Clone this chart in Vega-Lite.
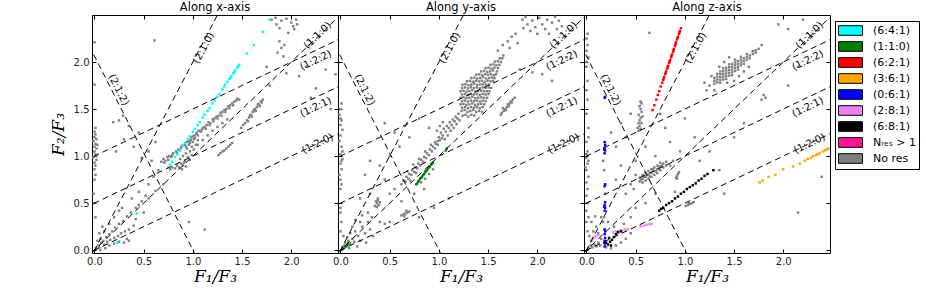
{
"$schema":"https://vega.github.io/schema/vega-lite/v6.json",
"padding":{"left":48,"top":1,"right":0,"bottom":0},
"autosize":{"type":"pad"},
"bounds":"flush",
"spacing":0,
"config":{
"view":{"stroke":"black","strokeWidth":1},
"axis":{"grid":false,"domain":false,"tickSize":-4,"tickColor":"black","labelFontSize":10,"labelFont":"DejaVu Sans","labelColor":"#222222","labelFlush":false,"labelOverlap":false,"labelPadding":7,"titleFont":"DejaVu Serif","titleFontStyle":"italic","titleFontWeight":"normal","titleFontSize":17,"titleColor":"black"},
"title":{"fontSize":11.5,"fontWeight":"normal","font":"DejaVu Sans","color":"black","offset":1},
"legend":{"orient":"none","legendX":743,"legendY":6}
},
"datasets":{
"lines":[
{"x1":-0.1,"y1":-0.2,"x2":1.3,"y2":2.6},
{"x1":-0.1,"y1":-0.1,"x2":2.6,"y2":2.6},
{"x1":-0.1,"y1":-0.05,"x2":2.6,"y2":1.3},
{"x1":-0.1,"y1":0.45,"x2":2.6,"y2":1.8},
{"x1":-0.1,"y1":0.95,"x2":2.6,"y2":2.3},
{"x1":-0.1,"y1":2.27,"x2":1.05,"y2":-0.1}
],
"labs":[
{"t":"(2:1:0)","x":1.11,"y":2.15,"g":"a"},
{"t":"(2:1:2)","x":0.244,"y":1.705,"g":"b"},
{"t":"(1:1:0)","x":2.268,"y":2.283,"g":"c"},
{"t":"(1:2:2)","x":2.25,"y":2.017,"g":"d"},
{"t":"(1:2:1)","x":2.25,"y":1.52,"g":"d"},
{"t":"(1:2:0)","x":2.268,"y":1.132,"g":"d"}
],
"pts":[
{"p":1,"c":"No res","x":0.68,"y":0.94},{"p":1,"c":"No res","x":0.70,"y":0.97},{"p":1,"c":"No res","x":0.72,"y":0.95},{"p":1,"c":"No res","x":0.74,"y":0.99},{"p":1,"c":"No res","x":0.76,"y":1.00},{"p":1,"c":"No res","x":0.78,"y":0.99},{"p":1,"c":"No res","x":0.80,"y":1.03},{"p":1,"c":"No res","x":0.83,"y":1.05},{"p":1,"c":"No res","x":0.85,"y":1.07},{"p":1,"c":"No res","x":0.87,"y":1.06},{"p":1,"c":"No res","x":0.89,"y":1.11},{"p":1,"c":"No res","x":0.92,"y":1.12},{"p":1,"c":"No res","x":0.94,"y":1.15},{"p":1,"c":"No res","x":0.96,"y":1.16},{"p":1,"c":"No res","x":0.98,"y":1.17},{"p":1,"c":"No res","x":1.00,"y":1.21},{"p":1,"c":"No res","x":1.02,"y":1.22},{"p":1,"c":"No res","x":1.04,"y":1.24},{"p":1,"c":"No res","x":1.06,"y":1.27},{"p":1,"c":"No res","x":1.08,"y":1.26},{"p":1,"c":"No res","x":1.10,"y":1.30},{"p":1,"c":"No res","x":1.12,"y":1.31},{"p":1,"c":"No res","x":1.14,"y":1.33},{"p":1,"c":"No res","x":1.16,"y":1.36},{"p":1,"c":"No res","x":1.18,"y":1.35},{"p":1,"c":"No res","x":1.20,"y":1.39},{"p":1,"c":"No res","x":1.22,"y":1.40},{"p":1,"c":"No res","x":1.24,"y":1.42},{"p":1,"c":"No res","x":1.26,"y":1.43},{"p":1,"c":"No res","x":1.28,"y":1.46},{"p":1,"c":"No res","x":1.30,"y":1.47},{"p":1,"c":"No res","x":1.32,"y":1.49},{"p":1,"c":"No res","x":1.34,"y":1.50},{"p":1,"c":"No res","x":1.36,"y":1.53},{"p":1,"c":"No res","x":1.38,"y":1.54},{"p":1,"c":"No res","x":1.40,"y":1.56},{"p":1,"c":"No res","x":1.42,"y":1.58},{"p":1,"c":"No res","x":1.44,"y":1.59},{"p":1,"c":"No res","x":0.71,"y":0.93},{"p":1,"c":"No res","x":0.75,"y":0.96},{"p":1,"c":"No res","x":0.79,"y":1.01},{"p":1,"c":"No res","x":0.84,"y":1.03},{"p":1,"c":"No res","x":0.88,"y":1.09},{"p":1,"c":"No res","x":0.93,"y":1.10},{"p":1,"c":"No res","x":0.97,"y":1.14},{"p":1,"c":"No res","x":1.01,"y":1.18},{"p":1,"c":"No res","x":1.05,"y":1.22},{"p":1,"c":"No res","x":1.09,"y":1.28},{"p":1,"c":"No res","x":1.13,"y":1.29},{"p":1,"c":"No res","x":1.17,"y":1.33},{"p":1,"c":"No res","x":1.21,"y":1.37},{"p":1,"c":"No res","x":1.25,"y":1.40},{"p":1,"c":"No res","x":1.29,"y":1.43},{"p":1,"c":"No res","x":1.33,"y":1.47},{"p":1,"c":"No res","x":1.37,"y":1.51},{"p":1,"c":"No res","x":1.41,"y":1.54},{"p":1,"c":"No res","x":1.45,"y":1.61},{"p":1,"c":"No res","x":1.47,"y":1.60},
{"p":1,"c":"No res","x":0.86,"y":0.88},{"p":1,"c":"No res","x":0.88,"y":0.92},{"p":1,"c":"No res","x":0.90,"y":0.90},{"p":1,"c":"No res","x":0.92,"y":0.95},{"p":1,"c":"No res","x":0.87,"y":0.97},{"p":1,"c":"No res","x":0.90,"y":1.00},{"p":1,"c":"No res","x":0.93,"y":1.03},{"p":1,"c":"No res","x":0.95,"y":0.99},{"p":1,"c":"No res","x":0.97,"y":1.05},{"p":1,"c":"No res","x":0.94,"y":1.08},{"p":1,"c":"No res","x":0.99,"y":1.10},{"p":1,"c":"No res","x":1.01,"y":1.07},{"p":1,"c":"No res","x":0.96,"y":1.12},{"p":1,"c":"No res","x":1.00,"y":1.15},{"p":1,"c":"No res","x":1.03,"y":1.12},{"p":1,"c":"No res","x":0.98,"y":1.20},{"p":1,"c":"No res","x":1.02,"y":1.19},{"p":1,"c":"No res","x":1.05,"y":1.17},{"p":1,"c":"No res","x":0.91,"y":0.93},{"p":1,"c":"No res","x":0.89,"y":0.86},{"p":1,"c":"No res","x":0.84,"y":0.90},{"p":1,"c":"No res","x":0.82,"y":0.87},{"p":1,"c":"No res","x":0.79,"y":0.88},{"p":1,"c":"No res","x":0.77,"y":0.86},{"p":1,"c":"No res","x":0.93,"y":0.89},{"p":1,"c":"No res","x":1.04,"y":1.25},{"p":1,"c":"No res","x":0.97,"y":0.96},{"p":1,"c":"No res","x":0.99,"y":1.01},
{"p":1,"c":"No res","x":1.05,"y":1.12},{"p":1,"c":"No res","x":1.10,"y":1.17},{"p":1,"c":"No res","x":1.15,"y":1.22},{"p":1,"c":"No res","x":1.20,"y":1.27},{"p":1,"c":"No res","x":1.25,"y":1.31},{"p":1,"c":"No res","x":1.30,"y":1.35},{"p":1,"c":"No res","x":1.35,"y":1.39},
{"p":1,"c":"No res","x":1.26,"y":1.01},{"p":1,"c":"No res","x":1.28,"y":1.03},{"p":1,"c":"No res","x":1.30,"y":1.05},{"p":1,"c":"No res","x":1.32,"y":1.06},{"p":1,"c":"No res","x":1.34,"y":1.08},{"p":1,"c":"No res","x":1.36,"y":1.10},{"p":1,"c":"No res","x":1.38,"y":1.12},{"p":1,"c":"No res","x":1.40,"y":1.14},
{"p":1,"c":"No res","x":1.49,"y":1.30},{"p":1,"c":"No res","x":1.51,"y":1.33},{"p":1,"c":"No res","x":1.53,"y":1.35},{"p":1,"c":"No res","x":1.55,"y":1.38},{"p":1,"c":"No res","x":1.57,"y":1.41},{"p":1,"c":"No res","x":1.59,"y":1.44},{"p":1,"c":"No res","x":1.61,"y":1.47},{"p":1,"c":"No res","x":1.63,"y":1.50},{"p":1,"c":"No res","x":1.65,"y":1.52},{"p":1,"c":"No res","x":1.67,"y":1.55},{"p":1,"c":"No res","x":1.69,"y":1.58},{"p":1,"c":"No res","x":1.71,"y":1.60},{"p":1,"c":"No res","x":1.56,"y":1.37},{"p":1,"c":"No res","x":1.60,"y":1.42},{"p":1,"c":"No res","x":1.64,"y":1.48},{"p":1,"c":"No res","x":1.68,"y":1.53},{"p":1,"c":"No res","x":1.58,"y":1.43},{"p":1,"c":"No res","x":1.62,"y":1.49},{"p":1,"c":"No res","x":1.66,"y":1.55},{"p":1,"c":"No res","x":1.70,"y":1.57},
{"p":1,"c":"No res","x":1.80,"y":2.45},{"p":1,"c":"No res","x":1.84,"y":2.47},{"p":1,"c":"No res","x":1.90,"y":2.44},{"p":1,"c":"No res","x":1.95,"y":2.46},{"p":1,"c":"No res","x":2.00,"y":2.42},{"p":1,"c":"No res","x":2.02,"y":2.38},{"p":1,"c":"No res","x":2.05,"y":2.45},{"p":1,"c":"No res","x":2.03,"y":2.35},{"p":1,"c":"No res","x":1.88,"y":2.36},{"p":1,"c":"No res","x":1.97,"y":2.31},{"p":1,"c":"No res","x":2.06,"y":2.40},{"p":1,"c":"No res","x":1.85,"y":2.40},{"p":1,"c":"No res","x":1.88,"y":2.22},{"p":1,"c":"No res","x":1.90,"y":2.15},{"p":1,"c":"No res","x":1.93,"y":2.18},{"p":1,"c":"No res","x":1.86,"y":2.10},{"p":1,"c":"No res","x":1.92,"y":2.06},{"p":1,"c":"No res","x":2.18,"y":2.18},{"p":1,"c":"No res","x":2.08,"y":1.85},{"p":1,"c":"No res","x":2.25,"y":1.72},{"p":1,"c":"No res","x":2.35,"y":1.92},{"p":1,"c":"No res","x":2.45,"y":1.87},{"p":1,"c":"No res","x":2.40,"y":1.50},{"p":1,"c":"No res","x":2.15,"y":1.95},{"p":1,"c":"No res","x":1.95,"y":1.88},{"p":1,"c":"No res","x":1.78,"y":1.75},{"p":1,"c":"No res","x":1.75,"y":1.95},{"p":1,"c":"No res","x":2.20,"y":1.62},
{"p":1,"c":"No res","x":0.61,"y":2.23},{"p":1,"c":"No res","x":0.29,"y":1.43},{"p":1,"c":"No res","x":0.19,"y":1.36},{"p":1,"c":"No res","x":0.25,"y":1.38},{"p":1,"c":"No res","x":0.35,"y":1.32},{"p":1,"c":"No res","x":0.30,"y":1.18},{"p":1,"c":"No res","x":0.40,"y":1.10},{"p":1,"c":"No res","x":0.45,"y":1.25},{"p":1,"c":"No res","x":0.22,"y":1.05},{"p":1,"c":"No res","x":0.48,"y":0.98},{"p":1,"c":"No res","x":0.55,"y":1.05},{"p":1,"c":"No res","x":0.62,"y":1.15},{"p":1,"c":"No res","x":0.58,"y":0.95},
{"p":1,"c":"No res","x":0.00,"y":0.86},{"p":1,"c":"No res","x":0.01,"y":0.90},{"p":1,"c":"No res","x":0.00,"y":0.93},{"p":1,"c":"No res","x":0.02,"y":0.96},{"p":1,"c":"No res","x":-0.01,"y":0.99},{"p":1,"c":"No res","x":0.01,"y":1.02},{"p":1,"c":"No res","x":0.00,"y":1.05},{"p":1,"c":"No res","x":0.02,"y":1.08},{"p":1,"c":"No res","x":0.00,"y":1.10},{"p":1,"c":"No res","x":0.01,"y":1.13},{"p":1,"c":"No res","x":-0.01,"y":1.16},{"p":1,"c":"No res","x":0.02,"y":1.18},{"p":1,"c":"No res","x":0.00,"y":1.20},{"p":1,"c":"No res","x":0.01,"y":1.23},{"p":1,"c":"No res","x":0.00,"y":1.26},{"p":1,"c":"No res","x":0.03,"y":1.12},{"p":1,"c":"No res","x":0.02,"y":1.00},{"p":1,"c":"No res","x":0.01,"y":0.80},{"p":1,"c":"No res","x":0.00,"y":0.75},{"p":1,"c":"No res","x":0.01,"y":1.30},{"p":1,"c":"No res","x":0.00,"y":2.21},{"p":1,"c":"No res","x":0.00,"y":1.76},{"p":1,"c":"No res","x":-0.01,"y":0.60},{"p":1,"c":"No res","x":0.00,"y":0.50},{"p":1,"c":"No res","x":0.01,"y":0.35},
{"p":1,"c":"No res","x":0.02,"y":0.02},{"p":1,"c":"No res","x":0.04,"y":0.05},{"p":1,"c":"No res","x":0.05,"y":0.03},{"p":1,"c":"No res","x":0.07,"y":0.08},{"p":1,"c":"No res","x":0.06,"y":0.12},{"p":1,"c":"No res","x":0.09,"y":0.10},{"p":1,"c":"No res","x":0.10,"y":0.06},{"p":1,"c":"No res","x":0.12,"y":0.14},{"p":1,"c":"No res","x":0.13,"y":0.09},{"p":1,"c":"No res","x":0.15,"y":0.17},{"p":1,"c":"No res","x":0.16,"y":0.11},{"p":1,"c":"No res","x":0.18,"y":0.20},{"p":1,"c":"No res","x":0.20,"y":0.13},{"p":1,"c":"No res","x":0.21,"y":0.24},{"p":1,"c":"No res","x":0.24,"y":0.15},{"p":1,"c":"No res","x":0.25,"y":0.28},{"p":1,"c":"No res","x":0.27,"y":0.18},{"p":1,"c":"No res","x":0.29,"y":0.31},{"p":1,"c":"No res","x":0.31,"y":0.20},{"p":1,"c":"No res","x":0.33,"y":0.36},{"p":1,"c":"No res","x":0.35,"y":0.22},{"p":1,"c":"No res","x":0.37,"y":0.40},{"p":1,"c":"No res","x":0.40,"y":0.26},{"p":1,"c":"No res","x":0.42,"y":0.45},{"p":1,"c":"No res","x":0.45,"y":0.48},{"p":1,"c":"No res","x":0.48,"y":0.52},{"p":1,"c":"No res","x":0.10,"y":0.20},{"p":1,"c":"No res","x":0.15,"y":0.28},{"p":1,"c":"No res","x":0.20,"y":0.35},{"p":1,"c":"No res","x":0.25,"y":0.42},{"p":1,"c":"No res","x":0.08,"y":0.25},{"p":1,"c":"No res","x":0.05,"y":0.18},{"p":1,"c":"No res","x":0.03,"y":0.10},{"p":1,"c":"No res","x":0.30,"y":0.08},{"p":1,"c":"No res","x":0.35,"y":0.10},{"p":1,"c":"No res","x":0.25,"y":0.09},{"p":1,"c":"No res","x":0.20,"y":0.07},{"p":1,"c":"No res","x":0.28,"y":0.45},{"p":1,"c":"No res","x":0.38,"y":0.55},{"p":1,"c":"No res","x":0.45,"y":0.62},{"p":1,"c":"No res","x":0.52,"y":0.58},{"p":1,"c":"No res","x":0.55,"y":0.70},{"p":1,"c":"No res","x":0.60,"y":0.78},{"p":1,"c":"No res","x":0.65,"y":0.85},{"p":1,"c":"No res","x":0.50,"y":0.40},{"p":1,"c":"No res","x":0.42,"y":0.33},{"p":1,"c":"No res","x":0.15,"y":0.05},{"p":1,"c":"No res","x":0.11,"y":0.02},{"p":1,"c":"No res","x":0.06,"y":0.00},{"p":1,"c":"No res","x":0.33,"y":0.12},{"p":1,"c":"No res","x":0.96,"y":0.30},{"p":1,"c":"No res","x":1.12,"y":0.22},{"p":1,"c":"No res","x":0.55,"y":0.55},{"p":1,"c":"No res","x":0.62,"y":0.63},{"p":1,"c":"No res","x":0.70,"y":0.70},
{"p":2,"c":"No res","x":1.23,"y":1.48},{"p":2,"c":"No res","x":1.26,"y":1.49},{"p":2,"c":"No res","x":1.29,"y":1.47},{"p":2,"c":"No res","x":1.32,"y":1.48},{"p":2,"c":"No res","x":1.35,"y":1.49},{"p":2,"c":"No res","x":1.38,"y":1.47},{"p":2,"c":"No res","x":1.41,"y":1.48},{"p":2,"c":"No res","x":1.44,"y":1.47},
{"p":2,"c":"No res","x":1.235,"y":1.515},{"p":2,"c":"No res","x":1.265,"y":1.52},{"p":2,"c":"No res","x":1.295,"y":1.51},{"p":2,"c":"No res","x":1.325,"y":1.52},{"p":2,"c":"No res","x":1.355,"y":1.515},{"p":2,"c":"No res","x":1.385,"y":1.52},{"p":2,"c":"No res","x":1.415,"y":1.51},{"p":2,"c":"No res","x":1.445,"y":1.52},
{"p":2,"c":"No res","x":1.22,"y":1.55},{"p":2,"c":"No res","x":1.25,"y":1.555},{"p":2,"c":"No res","x":1.28,"y":1.545},{"p":2,"c":"No res","x":1.31,"y":1.55},{"p":2,"c":"No res","x":1.34,"y":1.56},{"p":2,"c":"No res","x":1.37,"y":1.545},{"p":2,"c":"No res","x":1.40,"y":1.55},{"p":2,"c":"No res","x":1.43,"y":1.555},{"p":2,"c":"No res","x":1.46,"y":1.55},
{"p":2,"c":"No res","x":1.235,"y":1.585},{"p":2,"c":"No res","x":1.265,"y":1.59},{"p":2,"c":"No res","x":1.295,"y":1.58},{"p":2,"c":"No res","x":1.325,"y":1.59},{"p":2,"c":"No res","x":1.355,"y":1.585},{"p":2,"c":"No res","x":1.385,"y":1.59},{"p":2,"c":"No res","x":1.415,"y":1.58},{"p":2,"c":"No res","x":1.445,"y":1.59},{"p":2,"c":"No res","x":1.475,"y":1.585},
{"p":2,"c":"No res","x":1.22,"y":1.62},{"p":2,"c":"No res","x":1.25,"y":1.625},{"p":2,"c":"No res","x":1.28,"y":1.615},{"p":2,"c":"No res","x":1.31,"y":1.62},{"p":2,"c":"No res","x":1.34,"y":1.63},{"p":2,"c":"No res","x":1.37,"y":1.615},{"p":2,"c":"No res","x":1.40,"y":1.62},{"p":2,"c":"No res","x":1.43,"y":1.625},{"p":2,"c":"No res","x":1.46,"y":1.62},{"p":2,"c":"No res","x":1.49,"y":1.62},
{"p":2,"c":"No res","x":1.235,"y":1.655},{"p":2,"c":"No res","x":1.265,"y":1.66},{"p":2,"c":"No res","x":1.295,"y":1.65},{"p":2,"c":"No res","x":1.325,"y":1.66},{"p":2,"c":"No res","x":1.355,"y":1.655},{"p":2,"c":"No res","x":1.385,"y":1.66},{"p":2,"c":"No res","x":1.415,"y":1.65},{"p":2,"c":"No res","x":1.445,"y":1.66},{"p":2,"c":"No res","x":1.475,"y":1.655},{"p":2,"c":"No res","x":1.505,"y":1.66},
{"p":2,"c":"No res","x":1.22,"y":1.69},{"p":2,"c":"No res","x":1.25,"y":1.695},{"p":2,"c":"No res","x":1.28,"y":1.685},{"p":2,"c":"No res","x":1.31,"y":1.69},{"p":2,"c":"No res","x":1.34,"y":1.70},{"p":2,"c":"No res","x":1.37,"y":1.685},{"p":2,"c":"No res","x":1.40,"y":1.69},{"p":2,"c":"No res","x":1.43,"y":1.695},{"p":2,"c":"No res","x":1.46,"y":1.69},{"p":2,"c":"No res","x":1.49,"y":1.69},{"p":2,"c":"No res","x":1.515,"y":1.69},
{"p":2,"c":"No res","x":1.235,"y":1.725},{"p":2,"c":"No res","x":1.265,"y":1.73},{"p":2,"c":"No res","x":1.295,"y":1.72},{"p":2,"c":"No res","x":1.325,"y":1.73},{"p":2,"c":"No res","x":1.355,"y":1.725},{"p":2,"c":"No res","x":1.385,"y":1.73},{"p":2,"c":"No res","x":1.415,"y":1.72},{"p":2,"c":"No res","x":1.445,"y":1.73},{"p":2,"c":"No res","x":1.475,"y":1.725},{"p":2,"c":"No res","x":1.505,"y":1.73},{"p":2,"c":"No res","x":1.53,"y":1.725},
{"p":2,"c":"No res","x":1.24,"y":1.76},{"p":2,"c":"No res","x":1.27,"y":1.765},{"p":2,"c":"No res","x":1.30,"y":1.755},{"p":2,"c":"No res","x":1.33,"y":1.76},{"p":2,"c":"No res","x":1.36,"y":1.77},{"p":2,"c":"No res","x":1.39,"y":1.755},{"p":2,"c":"No res","x":1.42,"y":1.76},{"p":2,"c":"No res","x":1.45,"y":1.765},{"p":2,"c":"No res","x":1.48,"y":1.76},{"p":2,"c":"No res","x":1.51,"y":1.76},
{"p":2,"c":"No res","x":1.285,"y":1.795},{"p":2,"c":"No res","x":1.315,"y":1.80},{"p":2,"c":"No res","x":1.345,"y":1.79},{"p":2,"c":"No res","x":1.375,"y":1.80},{"p":2,"c":"No res","x":1.405,"y":1.795},{"p":2,"c":"No res","x":1.435,"y":1.80},{"p":2,"c":"No res","x":1.465,"y":1.79},{"p":2,"c":"No res","x":1.495,"y":1.80},{"p":2,"c":"No res","x":1.525,"y":1.795},{"p":2,"c":"No res","x":1.55,"y":1.80},
{"p":2,"c":"No res","x":1.33,"y":1.83},{"p":2,"c":"No res","x":1.36,"y":1.835},{"p":2,"c":"No res","x":1.39,"y":1.825},{"p":2,"c":"No res","x":1.42,"y":1.83},{"p":2,"c":"No res","x":1.45,"y":1.84},{"p":2,"c":"No res","x":1.48,"y":1.825},{"p":2,"c":"No res","x":1.51,"y":1.83},{"p":2,"c":"No res","x":1.54,"y":1.835},{"p":2,"c":"No res","x":1.565,"y":1.83},
{"p":2,"c":"No res","x":1.38,"y":1.865},{"p":2,"c":"No res","x":1.41,"y":1.87},{"p":2,"c":"No res","x":1.44,"y":1.86},{"p":2,"c":"No res","x":1.47,"y":1.87},{"p":2,"c":"No res","x":1.50,"y":1.865},{"p":2,"c":"No res","x":1.53,"y":1.87},{"p":2,"c":"No res","x":1.56,"y":1.86},{"p":2,"c":"No res","x":1.58,"y":1.87},
{"p":2,"c":"No res","x":1.43,"y":1.90},{"p":2,"c":"No res","x":1.46,"y":1.905},{"p":2,"c":"No res","x":1.49,"y":1.895},{"p":2,"c":"No res","x":1.52,"y":1.90},{"p":2,"c":"No res","x":1.55,"y":1.91},{"p":2,"c":"No res","x":1.59,"y":1.90},
{"p":2,"c":"No res","x":1.475,"y":1.935},{"p":2,"c":"No res","x":1.505,"y":1.94},{"p":2,"c":"No res","x":1.535,"y":1.93},{"p":2,"c":"No res","x":1.565,"y":1.94},{"p":2,"c":"No res","x":1.60,"y":1.935},
{"p":2,"c":"No res","x":1.525,"y":1.97},{"p":2,"c":"No res","x":1.555,"y":1.975},{"p":2,"c":"No res","x":1.585,"y":1.965},{"p":2,"c":"No res","x":1.615,"y":1.97},
{"p":2,"c":"No res","x":1.57,"y":2.005},{"p":2,"c":"No res","x":1.60,"y":2.01},{"p":2,"c":"No res","x":1.63,"y":2.00},{"p":2,"c":"No res","x":1.62,"y":2.04},{"p":2,"c":"No res","x":1.645,"y":2.04},{"p":2,"c":"No res","x":1.655,"y":2.07},
{"p":2,"c":"No res","x":1.00,"y":1.20},{"p":2,"c":"No res","x":1.02,"y":1.25},{"p":2,"c":"No res","x":1.04,"y":1.22},{"p":2,"c":"No res","x":1.05,"y":1.29},{"p":2,"c":"No res","x":1.07,"y":1.26},{"p":2,"c":"No res","x":1.08,"y":1.32},{"p":2,"c":"No res","x":1.10,"y":1.30},{"p":2,"c":"No res","x":1.11,"y":1.36},{"p":2,"c":"No res","x":1.13,"y":1.33},{"p":2,"c":"No res","x":1.14,"y":1.39},{"p":2,"c":"No res","x":1.16,"y":1.37},{"p":2,"c":"No res","x":1.17,"y":1.42},{"p":2,"c":"No res","x":1.19,"y":1.40},{"p":2,"c":"No res","x":1.20,"y":1.45},{"p":2,"c":"No res","x":1.18,"y":1.34},{"p":2,"c":"No res","x":1.15,"y":1.30},{"p":2,"c":"No res","x":1.12,"y":1.27},{"p":2,"c":"No res","x":1.06,"y":1.18},{"p":2,"c":"No res","x":1.09,"y":1.22},{"p":2,"c":"No res","x":1.21,"y":1.38},{"p":2,"c":"No res","x":1.24,"y":1.43},{"p":2,"c":"No res","x":1.27,"y":1.44},{"p":2,"c":"No res","x":1.30,"y":1.42},{"p":2,"c":"No res","x":1.33,"y":1.44},{"p":2,"c":"No res","x":1.36,"y":1.43},{"p":2,"c":"No res","x":0.98,"y":1.27},{"p":2,"c":"No res","x":1.01,"y":1.32},{"p":2,"c":"No res","x":1.04,"y":1.36},{"p":2,"c":"No res","x":0.96,"y":1.15},{"p":2,"c":"No res","x":0.99,"y":1.12},
{"p":2,"c":"No res","x":0.62,"y":0.70},{"p":2,"c":"No res","x":0.64,"y":0.74},{"p":2,"c":"No res","x":0.66,"y":0.73},{"p":2,"c":"No res","x":0.67,"y":0.78},{"p":2,"c":"No res","x":0.69,"y":0.76},{"p":2,"c":"No res","x":0.70,"y":0.81},{"p":2,"c":"No res","x":0.72,"y":0.80},{"p":2,"c":"No res","x":0.73,"y":0.85},{"p":2,"c":"No res","x":0.75,"y":0.83},{"p":2,"c":"No res","x":0.76,"y":0.88},{"p":2,"c":"No res","x":0.78,"y":0.87},{"p":2,"c":"No res","x":0.79,"y":0.92},{"p":2,"c":"No res","x":0.81,"y":0.90},{"p":2,"c":"No res","x":0.82,"y":0.96},{"p":2,"c":"No res","x":0.84,"y":0.94},{"p":2,"c":"No res","x":0.85,"y":0.99},{"p":2,"c":"No res","x":0.87,"y":0.98},{"p":2,"c":"No res","x":0.88,"y":1.03},{"p":2,"c":"No res","x":0.90,"y":1.01},{"p":2,"c":"No res","x":0.91,"y":1.07},{"p":2,"c":"No res","x":0.93,"y":1.05},{"p":2,"c":"No res","x":0.94,"y":1.10},{"p":2,"c":"No res","x":0.96,"y":1.08},{"p":2,"c":"No res","x":0.97,"y":1.13},{"p":2,"c":"No res","x":0.99,"y":1.16},{"p":2,"c":"No res","x":1.01,"y":1.17},{"p":2,"c":"No res","x":1.03,"y":1.19},{"p":2,"c":"No res","x":0.68,"y":0.84},{"p":2,"c":"No res","x":0.74,"y":0.91},{"p":2,"c":"No res","x":0.80,"y":0.97},{"p":2,"c":"No res","x":0.86,"y":1.05},{"p":2,"c":"No res","x":0.92,"y":1.12},{"p":2,"c":"No res","x":0.71,"y":0.74},{"p":2,"c":"No res","x":0.77,"y":0.82},{"p":2,"c":"No res","x":0.82,"y":0.72},{"p":2,"c":"No res","x":0.86,"y":0.76},{"p":2,"c":"No res","x":0.90,"y":0.81},{"p":2,"c":"No res","x":0.94,"y":0.86},
{"p":2,"c":"No res","x":1.64,"y":1.46},{"p":2,"c":"No res","x":1.66,"y":1.48},{"p":2,"c":"No res","x":1.67,"y":1.50},{"p":2,"c":"No res","x":1.69,"y":1.52},{"p":2,"c":"No res","x":1.70,"y":1.55},{"p":2,"c":"No res","x":1.72,"y":1.56},{"p":2,"c":"No res","x":1.73,"y":1.58},{"p":2,"c":"No res","x":1.75,"y":1.60},{"p":2,"c":"No res","x":1.68,"y":1.49},{"p":2,"c":"No res","x":1.71,"y":1.53},{"p":2,"c":"No res","x":1.65,"y":1.51},{"p":2,"c":"No res","x":1.74,"y":1.57},{"p":2,"c":"No res","x":1.77,"y":1.62},{"p":2,"c":"No res","x":1.63,"y":1.44},
{"p":2,"c":"No res","x":1.60,"y":2.12},{"p":2,"c":"No res","x":1.65,"y":2.18},{"p":2,"c":"No res","x":1.70,"y":2.22},{"p":2,"c":"No res","x":1.74,"y":2.27},{"p":2,"c":"No res","x":1.78,"y":2.30},{"p":2,"c":"No res","x":1.72,"y":2.15},{"p":2,"c":"No res","x":1.80,"y":2.20},{"p":2,"c":"No res","x":1.85,"y":2.45},{"p":2,"c":"No res","x":1.88,"y":2.48},{"p":2,"c":"No res","x":1.90,"y":2.40},{"p":2,"c":"No res","x":1.95,"y":2.44},{"p":2,"c":"No res","x":1.98,"y":2.37},{"p":2,"c":"No res","x":2.02,"y":2.47},{"p":2,"c":"No res","x":2.05,"y":2.40},{"p":2,"c":"No res","x":2.08,"y":2.35},{"p":2,"c":"No res","x":2.10,"y":2.45},{"p":2,"c":"No res","x":2.15,"y":2.42},{"p":2,"c":"No res","x":2.18,"y":2.48},{"p":2,"c":"No res","x":2.22,"y":2.44},{"p":2,"c":"No res","x":2.25,"y":2.38},{"p":2,"c":"No res","x":1.93,"y":2.33},{"p":2,"c":"No res","x":2.00,"y":2.30},{"p":2,"c":"No res","x":2.12,"y":2.30},{"p":2,"c":"No res","x":1.86,"y":2.36},{"p":2,"c":"No res","x":2.20,"y":2.35},{"p":2,"c":"No res","x":1.95,"y":1.89},{"p":2,"c":"No res","x":2.05,"y":1.87},{"p":2,"c":"No res","x":2.15,"y":1.80},{"p":2,"c":"No res","x":1.82,"y":1.92},{"p":2,"c":"No res","x":2.30,"y":2.05},
{"p":2,"c":"No res","x":0.00,"y":0.65},{"p":2,"c":"No res","x":0.01,"y":0.70},{"p":2,"c":"No res","x":0.00,"y":0.75},{"p":2,"c":"No res","x":-0.01,"y":0.80},{"p":2,"c":"No res","x":0.01,"y":0.86},{"p":2,"c":"No res","x":0.00,"y":0.92},{"p":2,"c":"No res","x":0.02,"y":0.97},{"p":2,"c":"No res","x":0.00,"y":1.02},{"p":2,"c":"No res","x":0.01,"y":1.10},{"p":2,"c":"No res","x":-0.01,"y":1.16},{"p":2,"c":"No res","x":0.00,"y":1.22},{"p":2,"c":"No res","x":0.02,"y":1.28},{"p":2,"c":"No res","x":0.00,"y":1.33},{"p":2,"c":"No res","x":0.01,"y":1.38},{"p":2,"c":"No res","x":-0.01,"y":1.44},{"p":2,"c":"No res","x":0.00,"y":1.50},{"p":2,"c":"No res","x":0.01,"y":1.56},{"p":2,"c":"No res","x":0.00,"y":1.40},{"p":2,"c":"No res","x":0.02,"y":1.05},{"p":2,"c":"No res","x":0.01,"y":0.95},{"p":2,"c":"No res","x":0.00,"y":0.40},{"p":2,"c":"No res","x":0.01,"y":0.30},{"p":2,"c":"No res","x":0.00,"y":0.45},{"p":2,"c":"No res","x":0.00,"y":0.20},
{"p":2,"c":"No res","x":0.35,"y":0.47},{"p":2,"c":"No res","x":0.37,"y":0.50},{"p":2,"c":"No res","x":0.38,"y":0.53},{"p":2,"c":"No res","x":0.36,"y":0.52},{"p":2,"c":"No res","x":0.39,"y":0.48},{"p":2,"c":"No res","x":0.37,"y":0.46},{"p":2,"c":"No res","x":0.40,"y":0.51},{"p":2,"c":"No res","x":0.38,"y":0.55},
{"p":2,"c":"No res","x":0.62,"y":0.37},{"p":2,"c":"No res","x":0.64,"y":0.38},{"p":2,"c":"No res","x":0.66,"y":0.39},{"p":2,"c":"No res","x":0.68,"y":0.40},{"p":2,"c":"No res","x":0.70,"y":0.41},{"p":2,"c":"No res","x":0.65,"y":0.36},{"p":2,"c":"No res","x":0.67,"y":0.42},
{"p":2,"c":"No res","x":0.02,"y":0.03},{"p":2,"c":"No res","x":0.04,"y":0.05},{"p":2,"c":"No res","x":0.06,"y":0.04},{"p":2,"c":"No res","x":0.05,"y":0.08},{"p":2,"c":"No res","x":0.08,"y":0.10},{"p":2,"c":"No res","x":0.10,"y":0.07},{"p":2,"c":"No res","x":0.07,"y":0.14},{"p":2,"c":"No res","x":0.12,"y":0.12},{"p":2,"c":"No res","x":0.14,"y":0.09},{"p":2,"c":"No res","x":0.10,"y":0.18},{"p":2,"c":"No res","x":0.15,"y":0.20},{"p":2,"c":"No res","x":0.18,"y":0.15},{"p":2,"c":"No res","x":0.20,"y":0.10},{"p":2,"c":"No res","x":0.22,"y":0.25},{"p":2,"c":"No res","x":0.25,"y":0.18},{"p":2,"c":"No res","x":0.28,"y":0.30},{"p":2,"c":"No res","x":0.30,"y":0.22},{"p":2,"c":"No res","x":0.33,"y":0.15},{"p":2,"c":"No res","x":0.20,"y":0.30},{"p":2,"c":"No res","x":0.12,"y":0.25},{"p":2,"c":"No res","x":0.26,"y":0.08},{"p":2,"c":"No res","x":0.32,"y":0.35},{"p":2,"c":"No res","x":0.40,"y":0.30},{"p":2,"c":"No res","x":0.45,"y":0.28},{"p":2,"c":"No res","x":0.28,"y":0.40},{"p":2,"c":"No res","x":0.22,"y":0.37},{"p":2,"c":"No res","x":0.15,"y":0.32},{"p":2,"c":"No res","x":0.09,"y":0.02},{"p":2,"c":"No res","x":0.17,"y":0.04},{"p":2,"c":"No res","x":0.03,"y":0.15},
{"p":2,"c":"No res","x":0.50,"y":0.60},{"p":2,"c":"No res","x":0.55,"y":0.65},{"p":2,"c":"No res","x":0.45,"y":0.75},{"p":2,"c":"No res","x":0.30,"y":0.60},{"p":2,"c":"No res","x":0.20,"y":0.55},{"p":2,"c":"No res","x":0.25,"y":0.80},{"p":2,"c":"No res","x":0.40,"y":0.90},{"p":2,"c":"No res","x":0.50,"y":1.00},{"p":2,"c":"No res","x":0.60,"y":1.10},{"p":2,"c":"No res","x":0.55,"y":1.25},{"p":2,"c":"No res","x":0.45,"y":1.35},{"p":2,"c":"No res","x":0.70,"y":1.20},{"p":2,"c":"No res","x":0.62,"y":0.52},{"p":2,"c":"No res","x":0.75,"y":0.60},{"p":2,"c":"No res","x":0.85,"y":0.65},{"p":2,"c":"No res","x":0.95,"y":0.45},{"p":2,"c":"No res","x":1.10,"y":0.55},{"p":2,"c":"No res","x":0.50,"y":0.30},{"p":2,"c":"No res","x":0.80,"y":0.35},{"p":2,"c":"No res","x":0.90,"y":1.30},{"p":2,"c":"No res","x":0.80,"y":1.40},{"p":2,"c":"No res","x":0.30,"y":0.95},
{"p":3,"c":"No res","x":1.30,"y":1.77},{"p":3,"c":"No res","x":1.30,"y":1.80},{"p":3,"c":"No res","x":1.30,"y":1.83},{"p":3,"c":"No res","x":1.33,"y":1.785},{"p":3,"c":"No res","x":1.33,"y":1.815},{"p":3,"c":"No res","x":1.33,"y":1.845},{"p":3,"c":"No res","x":1.33,"y":1.875},{"p":3,"c":"No res","x":1.36,"y":1.78},{"p":3,"c":"No res","x":1.36,"y":1.81},{"p":3,"c":"No res","x":1.36,"y":1.84},{"p":3,"c":"No res","x":1.36,"y":1.87},{"p":3,"c":"No res","x":1.36,"y":1.90},{"p":3,"c":"No res","x":1.39,"y":1.815},{"p":3,"c":"No res","x":1.39,"y":1.845},{"p":3,"c":"No res","x":1.39,"y":1.875},{"p":3,"c":"No res","x":1.39,"y":1.905},{"p":3,"c":"No res","x":1.39,"y":1.935},{"p":3,"c":"No res","x":1.42,"y":1.82},{"p":3,"c":"No res","x":1.42,"y":1.85},{"p":3,"c":"No res","x":1.42,"y":1.88},{"p":3,"c":"No res","x":1.42,"y":1.91},{"p":3,"c":"No res","x":1.42,"y":1.94},{"p":3,"c":"No res","x":1.45,"y":1.855},{"p":3,"c":"No res","x":1.45,"y":1.885},{"p":3,"c":"No res","x":1.45,"y":1.915},{"p":3,"c":"No res","x":1.45,"y":1.945},{"p":3,"c":"No res","x":1.45,"y":1.975},{"p":3,"c":"No res","x":1.48,"y":1.86},{"p":3,"c":"No res","x":1.48,"y":1.89},{"p":3,"c":"No res","x":1.48,"y":1.92},{"p":3,"c":"No res","x":1.48,"y":1.95},{"p":3,"c":"No res","x":1.48,"y":1.98},{"p":3,"c":"No res","x":1.51,"y":1.905},{"p":3,"c":"No res","x":1.51,"y":1.935},{"p":3,"c":"No res","x":1.51,"y":1.965},{"p":3,"c":"No res","x":1.51,"y":1.995},{"p":3,"c":"No res","x":1.51,"y":2.025},{"p":3,"c":"No res","x":1.54,"y":1.92},{"p":3,"c":"No res","x":1.54,"y":1.95},{"p":3,"c":"No res","x":1.54,"y":1.98},{"p":3,"c":"No res","x":1.54,"y":2.01},{"p":3,"c":"No res","x":1.57,"y":1.965},{"p":3,"c":"No res","x":1.57,"y":1.995},{"p":3,"c":"No res","x":1.57,"y":2.025},{"p":3,"c":"No res","x":1.57,"y":2.055},{"p":3,"c":"No res","x":1.60,"y":1.98},{"p":3,"c":"No res","x":1.60,"y":2.01},{"p":3,"c":"No res","x":1.60,"y":2.04},{"p":3,"c":"No res","x":1.63,"y":2.025},{"p":3,"c":"No res","x":1.63,"y":2.055},{"p":3,"c":"No res","x":1.63,"y":2.085},{"p":3,"c":"No res","x":1.66,"y":2.04},{"p":3,"c":"No res","x":1.66,"y":2.07},{"p":3,"c":"No res","x":1.69,"y":2.085},{"p":3,"c":"No res","x":1.69,"y":2.115},{"p":3,"c":"No res","x":1.72,"y":2.10},{"p":3,"c":"No res","x":1.72,"y":2.125},{"p":3,"c":"No res","x":1.75,"y":2.14},
{"p":3,"c":"No res","x":1.25,"y":1.75},{"p":3,"c":"No res","x":1.22,"y":1.70},{"p":3,"c":"No res","x":1.27,"y":1.85},{"p":3,"c":"No res","x":1.35,"y":1.95},{"p":3,"c":"No res","x":1.40,"y":2.00},{"p":3,"c":"No res","x":1.45,"y":2.05},{"p":3,"c":"No res","x":1.55,"y":1.85},{"p":3,"c":"No res","x":1.60,"y":1.90},{"p":3,"c":"No res","x":1.50,"y":1.80},{"p":3,"c":"No res","x":1.65,"y":1.95},{"p":3,"c":"No res","x":1.78,"y":2.18},{"p":3,"c":"No res","x":1.20,"y":1.78},{"p":3,"c":"No res","x":1.30,"y":1.70},{"p":3,"c":"No res","x":1.43,"y":1.78},
{"p":3,"c":"No res","x":0.54,"y":0.73},{"p":3,"c":"No res","x":0.54,"y":0.77},{"p":3,"c":"No res","x":0.57,"y":0.72},{"p":3,"c":"No res","x":0.57,"y":0.76},{"p":3,"c":"No res","x":0.57,"y":0.80},{"p":3,"c":"No res","x":0.60,"y":0.74},{"p":3,"c":"No res","x":0.60,"y":0.78},{"p":3,"c":"No res","x":0.60,"y":0.82},{"p":3,"c":"No res","x":0.63,"y":0.76},{"p":3,"c":"No res","x":0.63,"y":0.80},{"p":3,"c":"No res","x":0.63,"y":0.84},{"p":3,"c":"No res","x":0.66,"y":0.78},{"p":3,"c":"No res","x":0.66,"y":0.82},{"p":3,"c":"No res","x":0.66,"y":0.86},{"p":3,"c":"No res","x":0.69,"y":0.80},{"p":3,"c":"No res","x":0.69,"y":0.84},{"p":3,"c":"No res","x":0.69,"y":0.88},{"p":3,"c":"No res","x":0.72,"y":0.82},{"p":3,"c":"No res","x":0.72,"y":0.86},{"p":3,"c":"No res","x":0.72,"y":0.90},{"p":3,"c":"No res","x":0.75,"y":0.85},{"p":3,"c":"No res","x":0.75,"y":0.89},{"p":3,"c":"No res","x":0.75,"y":0.93},{"p":3,"c":"No res","x":0.78,"y":0.88},{"p":3,"c":"No res","x":0.78,"y":0.92},{"p":3,"c":"No res","x":0.81,"y":0.90},{"p":3,"c":"No res","x":0.81,"y":0.94},{"p":3,"c":"No res","x":0.555,"y":0.75},{"p":3,"c":"No res","x":0.585,"y":0.78},{"p":3,"c":"No res","x":0.615,"y":0.80},{"p":3,"c":"No res","x":0.645,"y":0.78},{"p":3,"c":"No res","x":0.675,"y":0.86},{"p":3,"c":"No res","x":0.705,"y":0.84},{"p":3,"c":"No res","x":0.735,"y":0.88},{"p":3,"c":"No res","x":0.765,"y":0.90},{"p":3,"c":"No res","x":0.45,"y":0.70},{"p":3,"c":"No res","x":0.50,"y":0.80},{"p":3,"c":"No res","x":0.48,"y":0.65},{"p":3,"c":"No res","x":0.85,"y":0.90},{"p":3,"c":"No res","x":0.88,"y":0.95},{"p":3,"c":"No res","x":0.40,"y":0.60},
{"p":3,"c":"No res","x":0.53,"y":1.27},{"p":3,"c":"No res","x":0.55,"y":1.29},{"p":3,"c":"No res","x":0.54,"y":1.32},{"p":3,"c":"No res","x":0.56,"y":1.35},{"p":3,"c":"No res","x":0.54,"y":1.38},{"p":3,"c":"No res","x":0.55,"y":1.41},{"p":3,"c":"No res","x":0.53,"y":1.44},{"p":3,"c":"No res","x":0.56,"y":1.47},{"p":3,"c":"No res","x":0.55,"y":1.50},{"p":3,"c":"No res","x":0.54,"y":1.53},{"p":3,"c":"No res","x":0.56,"y":1.56},{"p":3,"c":"No res","x":0.55,"y":1.58},{"p":3,"c":"No res","x":0.53,"y":1.35},{"p":3,"c":"No res","x":0.57,"y":1.42},{"p":3,"c":"No res","x":0.52,"y":1.30},
{"p":3,"c":"No res","x":0.91,"y":0.77},{"p":3,"c":"No res","x":0.92,"y":0.79},{"p":3,"c":"No res","x":0.93,"y":0.81},{"p":3,"c":"No res","x":0.94,"y":0.83},{"p":3,"c":"No res","x":0.92,"y":0.76},{"p":3,"c":"No res","x":1.01,"y":0.47},{"p":3,"c":"No res","x":1.03,"y":0.48},{"p":3,"c":"No res","x":1.05,"y":0.49},{"p":3,"c":"No res","x":1.07,"y":0.50},{"p":3,"c":"No res","x":1.09,"y":0.51},{"p":3,"c":"No res","x":1.04,"y":0.50},
{"p":3,"c":"No res","x":0.64,"y":2.31},{"p":3,"c":"No res","x":0.35,"y":1.35},{"p":3,"c":"No res","x":0.40,"y":1.20},{"p":3,"c":"No res","x":0.45,"y":1.45},{"p":3,"c":"No res","x":0.30,"y":1.10},{"p":3,"c":"No res","x":0.25,"y":1.25},{"p":3,"c":"No res","x":0.60,"y":1.10},{"p":3,"c":"No res","x":0.70,"y":1.00},{"p":3,"c":"No res","x":0.80,"y":1.30},{"p":3,"c":"No res","x":0.85,"y":1.15},{"p":3,"c":"No res","x":0.95,"y":1.05},{"p":3,"c":"No res","x":1.00,"y":1.40},{"p":3,"c":"No res","x":1.10,"y":1.20},{"p":3,"c":"No res","x":0.75,"y":1.45},{"p":3,"c":"No res","x":0.50,"y":0.95},{"p":3,"c":"No res","x":0.35,"y":0.90},{"p":3,"c":"No res","x":0.30,"y":0.75},{"p":3,"c":"No res","x":1.15,"y":0.95},{"p":3,"c":"No res","x":1.25,"y":1.05},{"p":3,"c":"No res","x":1.35,"y":0.85},{"p":3,"c":"No res","x":1.40,"y":0.60},{"p":3,"c":"No res","x":1.50,"y":1.20},{"p":3,"c":"No res","x":1.60,"y":1.35},{"p":3,"c":"No res","x":1.80,"y":1.65},{"p":3,"c":"No res","x":1.82,"y":1.62},{"p":3,"c":"No res","x":1.78,"y":1.60},{"p":3,"c":"No res","x":2.05,"y":1.75},{"p":3,"c":"No res","x":2.15,"y":1.95},{"p":3,"c":"No res","x":2.30,"y":2.30},{"p":3,"c":"No res","x":2.05,"y":2.35},{"p":3,"c":"No res","x":2.20,"y":2.45},{"p":3,"c":"No res","x":1.95,"y":2.40},{"p":3,"c":"No res","x":2.39,"y":0.78},{"p":3,"c":"No res","x":2.15,"y":0.40},{"p":3,"c":"No res","x":0.50,"y":0.45},{"p":3,"c":"No res","x":0.45,"y":0.35},{"p":3,"c":"No res","x":0.60,"y":0.50},{"p":3,"c":"No res","x":0.70,"y":0.60},{"p":3,"c":"No res","x":0.90,"y":0.62},
{"p":3,"c":"No res","x":0.00,"y":2.25},{"p":3,"c":"No res","x":0.01,"y":2.18},{"p":3,"c":"No res","x":0.00,"y":2.12},{"p":3,"c":"No res","x":0.02,"y":2.05},{"p":3,"c":"No res","x":0.00,"y":1.95},{"p":3,"c":"No res","x":0.01,"y":1.80},{"p":3,"c":"No res","x":0.00,"y":1.70},{"p":3,"c":"No res","x":0.01,"y":1.60},{"p":3,"c":"No res","x":0.00,"y":1.45},{"p":3,"c":"No res","x":0.02,"y":1.30},{"p":3,"c":"No res","x":0.00,"y":1.15},{"p":3,"c":"No res","x":0.01,"y":1.05},{"p":3,"c":"No res","x":0.00,"y":0.98},{"p":3,"c":"No res","x":0.01,"y":0.92},{"p":3,"c":"No res","x":0.00,"y":0.85},{"p":3,"c":"No res","x":0.02,"y":0.78},{"p":3,"c":"No res","x":0.00,"y":0.72},{"p":3,"c":"No res","x":0.01,"y":0.65},{"p":3,"c":"No res","x":0.00,"y":0.58},{"p":3,"c":"No res","x":0.01,"y":0.50},{"p":3,"c":"No res","x":0.00,"y":0.42},{"p":3,"c":"No res","x":0.02,"y":0.35},{"p":3,"c":"No res","x":0.00,"y":0.30},{"p":3,"c":"No res","x":0.01,"y":0.20},{"p":3,"c":"No res","x":0.00,"y":1.02},{"p":3,"c":"No res","x":0.02,"y":0.95},{"p":3,"c":"No res","x":-0.01,"y":0.88},{"p":3,"c":"No res","x":0.01,"y":2.30},{"p":3,"c":"No res","x":0.00,"y":2.00},{"p":3,"c":"No res","x":0.02,"y":1.20},{"p":3,"c":"No res","x":0.17,"y":0.95},{"p":3,"c":"No res","x":0.18,"y":0.85},{"p":3,"c":"No res","x":0.19,"y":0.60},{"p":3,"c":"No res","x":0.17,"y":0.30},{"p":3,"c":"No res","x":0.18,"y":0.35},
{"p":3,"c":"No res","x":0.02,"y":0.02},{"p":3,"c":"No res","x":0.04,"y":0.05},{"p":3,"c":"No res","x":0.06,"y":0.03},{"p":3,"c":"No res","x":0.08,"y":0.06},{"p":3,"c":"No res","x":0.10,"y":0.04},{"p":3,"c":"No res","x":0.05,"y":0.10},{"p":3,"c":"No res","x":0.12,"y":0.08},{"p":3,"c":"No res","x":0.14,"y":0.05},{"p":3,"c":"No res","x":0.03,"y":0.15},{"p":3,"c":"No res","x":0.07,"y":0.20},{"p":3,"c":"No res","x":0.10,"y":0.25},{"p":3,"c":"No res","x":0.12,"y":0.18},{"p":3,"c":"No res","x":0.15,"y":0.12},{"p":3,"c":"No res","x":0.20,"y":0.03},{"p":3,"c":"No res","x":0.25,"y":0.02},{"p":3,"c":"No res","x":0.30,"y":0.05},{"p":3,"c":"No res","x":0.35,"y":0.08},{"p":3,"c":"No res","x":0.28,"y":0.25},{"p":3,"c":"No res","x":0.22,"y":0.30},{"p":3,"c":"No res","x":0.15,"y":0.35},{"p":3,"c":"No res","x":0.40,"y":0.12},{"p":3,"c":"No res","x":0.45,"y":0.18},{"p":3,"c":"No res","x":0.38,"y":0.28},{"p":3,"c":"No res","x":0.05,"y":0.30},{"p":3,"c":"No res","x":0.09,"y":0.36},
{"p":1,"c":"(6:4:1)","x":0.75,"y":0.88},{"p":1,"c":"(6:4:1)","x":0.77,"y":0.91},{"p":1,"c":"(6:4:1)","x":0.79,"y":0.94},{"p":1,"c":"(6:4:1)","x":0.82,"y":0.99},{"p":1,"c":"(6:4:1)","x":0.84,"y":1.02},{"p":1,"c":"(6:4:1)","x":0.87,"y":1.06},{"p":1,"c":"(6:4:1)","x":0.90,"y":1.11},{"p":1,"c":"(6:4:1)","x":0.92,"y":1.14},{"p":1,"c":"(6:4:1)","x":0.95,"y":1.18},{"p":1,"c":"(6:4:1)","x":0.97,"y":1.21},{"p":1,"c":"(6:4:1)","x":1.00,"y":1.26},{"p":1,"c":"(6:4:1)","x":1.02,"y":1.29},{"p":1,"c":"(6:4:1)","x":1.05,"y":1.33},{"p":1,"c":"(6:4:1)","x":1.07,"y":1.36},{"p":1,"c":"(6:4:1)","x":1.10,"y":1.41},{"p":1,"c":"(6:4:1)","x":1.12,"y":1.44},{"p":1,"c":"(6:4:1)","x":1.15,"y":1.48},{"p":1,"c":"(6:4:1)","x":1.17,"y":1.51},{"p":1,"c":"(6:4:1)","x":1.20,"y":1.56},{"p":1,"c":"(6:4:1)","x":1.22,"y":1.59},{"p":1,"c":"(6:4:1)","x":1.25,"y":1.63},{"p":1,"c":"(6:4:1)","x":1.27,"y":1.66},{"p":1,"c":"(6:4:1)","x":1.30,"y":1.71},{"p":1,"c":"(6:4:1)","x":1.32,"y":1.74},{"p":1,"c":"(6:4:1)","x":1.35,"y":1.79},{"p":1,"c":"(6:4:1)","x":1.37,"y":1.82},{"p":1,"c":"(6:4:1)","x":1.39,"y":1.85},{"p":1,"c":"(6:4:1)","x":1.41,"y":1.88},{"p":1,"c":"(6:4:1)","x":1.43,"y":1.91},{"p":1,"c":"(6:4:1)","x":1.45,"y":1.94},{"p":1,"c":"(6:4:1)","x":1.47,"y":1.97},{"p":1,"c":"(6:4:1)","x":1.33,"y":1.76},{"p":1,"c":"(6:4:1)","x":1.38,"y":1.83},{"p":1,"c":"(6:4:1)","x":1.42,"y":1.89},{"p":1,"c":"(6:4:1)","x":1.46,"y":1.95},{"p":1,"c":"(6:4:1)","x":1.55,"y":2.09},{"p":1,"c":"(6:4:1)","x":1.62,"y":2.18},{"p":1,"c":"(6:4:1)","x":1.71,"y":2.32},{"p":1,"c":"(6:4:1)","x":1.78,"y":2.45},{"p":1,"c":"(6:4:1)","x":0.43,"y":0.39},{"p":1,"c":"(6:4:1)","x":0.23,"y":0.08},
{"p":2,"c":"(1:1:0)","x":0.77,"y":0.70},{"p":2,"c":"(1:1:0)","x":0.79,"y":0.73},{"p":2,"c":"(1:1:0)","x":0.80,"y":0.74},{"p":2,"c":"(1:1:0)","x":0.82,"y":0.77},{"p":2,"c":"(1:1:0)","x":0.83,"y":0.78},{"p":2,"c":"(1:1:0)","x":0.85,"y":0.81},{"p":2,"c":"(1:1:0)","x":0.86,"y":0.83},{"p":2,"c":"(1:1:0)","x":0.88,"y":0.85},{"p":2,"c":"(1:1:0)","x":0.89,"y":0.87},{"p":2,"c":"(1:1:0)","x":0.91,"y":0.89},{"p":2,"c":"(1:1:0)","x":0.92,"y":0.91},{"p":2,"c":"(1:1:0)","x":0.94,"y":0.93},{"p":2,"c":"(1:1:0)","x":0.78,"y":0.71},{"p":2,"c":"(1:1:0)","x":0.81,"y":0.76},{"p":2,"c":"(1:1:0)","x":0.84,"y":0.80},{"p":2,"c":"(1:1:0)","x":0.87,"y":0.84},{"p":2,"c":"(1:1:0)","x":0.90,"y":0.88},{"p":2,"c":"(1:1:0)","x":0.93,"y":0.92},{"p":2,"c":"(1:1:0)","x":1.08,"y":1.08},{"p":2,"c":"(1:1:0)","x":1.07,"y":1.06},{"p":2,"c":"(1:1:0)","x":0.03,"y":0.02},{"p":2,"c":"(1:1:0)","x":0.05,"y":0.04},{"p":2,"c":"(1:1:0)","x":0.07,"y":0.05},{"p":2,"c":"(1:1:0)","x":0.08,"y":0.07},{"p":2,"c":"(1:1:0)","x":0.02,"y":0.01},
{"p":3,"c":"(6:2:1)","x":0.673,"y":1.49},{"p":3,"c":"(6:2:1)","x":0.69,"y":1.54},{"p":3,"c":"(6:2:1)","x":0.71,"y":1.60},{"p":3,"c":"(6:2:1)","x":0.725,"y":1.65},{"p":3,"c":"(6:2:1)","x":0.74,"y":1.69},{"p":3,"c":"(6:2:1)","x":0.755,"y":1.74},{"p":3,"c":"(6:2:1)","x":0.77,"y":1.78},{"p":3,"c":"(6:2:1)","x":0.78,"y":1.81},{"p":3,"c":"(6:2:1)","x":0.79,"y":1.84},{"p":3,"c":"(6:2:1)","x":0.80,"y":1.87},{"p":3,"c":"(6:2:1)","x":0.81,"y":1.90},{"p":3,"c":"(6:2:1)","x":0.82,"y":1.93},{"p":3,"c":"(6:2:1)","x":0.83,"y":1.96},{"p":3,"c":"(6:2:1)","x":0.84,"y":1.99},{"p":3,"c":"(6:2:1)","x":0.85,"y":2.02},{"p":3,"c":"(6:2:1)","x":0.86,"y":2.05},{"p":3,"c":"(6:2:1)","x":0.87,"y":2.08},{"p":3,"c":"(6:2:1)","x":0.88,"y":2.11},{"p":3,"c":"(6:2:1)","x":0.89,"y":2.14},{"p":3,"c":"(6:2:1)","x":0.90,"y":2.17},{"p":3,"c":"(6:2:1)","x":0.91,"y":2.21},{"p":3,"c":"(6:2:1)","x":0.92,"y":2.24},{"p":3,"c":"(6:2:1)","x":0.93,"y":2.27},{"p":3,"c":"(6:2:1)","x":0.94,"y":2.30},{"p":3,"c":"(6:2:1)","x":0.95,"y":2.33},{"p":3,"c":"(6:2:1)","x":0.96,"y":2.36},{"p":3,"c":"(6:2:1)","x":0.785,"y":1.825},{"p":3,"c":"(6:2:1)","x":0.805,"y":1.885},{"p":3,"c":"(6:2:1)","x":0.825,"y":1.945},{"p":3,"c":"(6:2:1)","x":0.845,"y":2.005},{"p":3,"c":"(6:2:1)","x":0.865,"y":2.065},{"p":3,"c":"(6:2:1)","x":0.885,"y":2.125},{"p":3,"c":"(6:2:1)","x":0.905,"y":2.19},{"p":3,"c":"(6:2:1)","x":0.925,"y":2.255},{"p":3,"c":"(6:2:1)","x":0.945,"y":2.315},
{"p":3,"c":"(3:6:1)","x":1.76,"y":0.72},{"p":3,"c":"(3:6:1)","x":1.79,"y":0.74},{"p":3,"c":"(3:6:1)","x":1.85,"y":0.78},{"p":3,"c":"(3:6:1)","x":1.92,"y":0.80},{"p":3,"c":"(3:6:1)","x":2.00,"y":0.86},{"p":3,"c":"(3:6:1)","x":2.10,"y":0.89},{"p":3,"c":"(3:6:1)","x":2.17,"y":0.92},{"p":3,"c":"(3:6:1)","x":2.22,"y":0.95},{"p":3,"c":"(3:6:1)","x":2.25,"y":0.97},{"p":3,"c":"(3:6:1)","x":2.28,"y":0.98},{"p":3,"c":"(3:6:1)","x":2.30,"y":1.00},{"p":3,"c":"(3:6:1)","x":2.33,"y":1.01},{"p":3,"c":"(3:6:1)","x":2.35,"y":1.02},{"p":3,"c":"(3:6:1)","x":2.37,"y":1.03},{"p":3,"c":"(3:6:1)","x":2.40,"y":1.05},{"p":3,"c":"(3:6:1)","x":2.42,"y":1.06},{"p":3,"c":"(3:6:1)","x":2.44,"y":1.07},{"p":3,"c":"(3:6:1)","x":2.46,"y":1.08},
{"p":3,"c":"(0:6:1)","x":0.185,"y":1.03},{"p":3,"c":"(0:6:1)","x":0.19,"y":1.06},{"p":3,"c":"(0:6:1)","x":0.185,"y":1.09},{"p":3,"c":"(0:6:1)","x":0.19,"y":1.12},{"p":3,"c":"(0:6:1)","x":0.185,"y":1.15},{"p":3,"c":"(0:6:1)","x":0.18,"y":1.07},{"p":3,"c":"(0:6:1)","x":0.185,"y":0.68},{"p":3,"c":"(0:6:1)","x":0.19,"y":0.70},{"p":3,"c":"(0:6:1)","x":0.185,"y":0.42},{"p":3,"c":"(0:6:1)","x":0.19,"y":0.45},{"p":3,"c":"(0:6:1)","x":0.185,"y":0.48},{"p":3,"c":"(0:6:1)","x":0.19,"y":0.51},{"p":3,"c":"(0:6:1)","x":0.18,"y":0.46},{"p":3,"c":"(0:6:1)","x":0.185,"y":0.17},{"p":3,"c":"(0:6:1)","x":0.19,"y":0.20},{"p":3,"c":"(0:6:1)","x":0.185,"y":0.22},{"p":3,"c":"(0:6:1)","x":0.185,"y":0.04},{"p":3,"c":"(0:6:1)","x":0.19,"y":0.07},{"p":3,"c":"(0:6:1)","x":0.185,"y":0.10},{"p":3,"c":"(0:6:1)","x":0.19,"y":0.13},{"p":3,"c":"(0:6:1)","x":0.18,"y":0.08},{"p":3,"c":"(0:6:1)","x":0.185,"y":1.62},{"p":3,"c":"(0:6:1)","x":0.19,"y":1.63},
{"p":3,"c":"(2:8:1)","x":0.27,"y":0.19},{"p":3,"c":"(2:8:1)","x":0.30,"y":0.20},{"p":3,"c":"(2:8:1)","x":0.33,"y":0.205},{"p":3,"c":"(2:8:1)","x":0.36,"y":0.21},{"p":3,"c":"(2:8:1)","x":0.39,"y":0.22},{"p":3,"c":"(2:8:1)","x":0.42,"y":0.225},{"p":3,"c":"(2:8:1)","x":0.55,"y":0.255},{"p":3,"c":"(2:8:1)","x":0.58,"y":0.26},{"p":3,"c":"(2:8:1)","x":0.61,"y":0.27},{"p":3,"c":"(2:8:1)","x":0.64,"y":0.275},{"p":3,"c":"(2:8:1)","x":0.66,"y":0.28},{"p":3,"c":"(2:8:1)","x":0.07,"y":0.13},{"p":3,"c":"(2:8:1)","x":0.08,"y":0.14},{"p":3,"c":"(2:8:1)","x":0.06,"y":0.12},{"p":3,"c":"(2:8:1)","x":0.10,"y":0.15},{"p":3,"c":"(2:8:1)","x":0.12,"y":0.16},
{"p":3,"c":"(6:8:1)","x":0.74,"y":0.42},{"p":3,"c":"(6:8:1)","x":0.76,"y":0.44},{"p":3,"c":"(6:8:1)","x":0.78,"y":0.45},{"p":3,"c":"(6:8:1)","x":0.81,"y":0.48},{"p":3,"c":"(6:8:1)","x":0.84,"y":0.50},{"p":3,"c":"(6:8:1)","x":0.87,"y":0.52},{"p":3,"c":"(6:8:1)","x":0.90,"y":0.55},{"p":3,"c":"(6:8:1)","x":0.93,"y":0.57},{"p":3,"c":"(6:8:1)","x":0.96,"y":0.60},{"p":3,"c":"(6:8:1)","x":0.99,"y":0.62},{"p":3,"c":"(6:8:1)","x":1.02,"y":0.65},{"p":3,"c":"(6:8:1)","x":1.05,"y":0.67},{"p":3,"c":"(6:8:1)","x":1.08,"y":0.69},{"p":3,"c":"(6:8:1)","x":1.11,"y":0.71},{"p":3,"c":"(6:8:1)","x":1.14,"y":0.74},{"p":3,"c":"(6:8:1)","x":1.17,"y":0.76},{"p":3,"c":"(6:8:1)","x":1.20,"y":0.79},{"p":3,"c":"(6:8:1)","x":1.23,"y":0.81},{"p":3,"c":"(6:8:1)","x":1.29,"y":0.85},{"p":3,"c":"(6:8:1)","x":0.22,"y":0.06},{"p":3,"c":"(6:8:1)","x":0.24,"y":0.09},{"p":3,"c":"(6:8:1)","x":0.26,"y":0.11},{"p":3,"c":"(6:8:1)","x":0.28,"y":0.14},{"p":3,"c":"(6:8:1)","x":0.30,"y":0.17},{"p":3,"c":"(6:8:1)","x":0.25,"y":0.05},{"p":3,"c":"(6:8:1)","x":0.20,"y":0.08},{"p":3,"c":"(6:8:1)","x":0.23,"y":0.13},{"p":3,"c":"(6:8:1)","x":0.32,"y":0.19},{"p":3,"c":"(6:8:1)","x":0.35,"y":0.20}
]
},
"hconcat":[
{"width":246,"height":238,"title":{"text":"Along x-axis"},
"layer":[
{"data":{"name":"pts"},"transform":[{"filter":"datum.p==1"}],"mark":{"type":"square","size":6,"opacity":1,"clip":true},
"encoding":{
"x":{"field":"x","type":"quantitative","scale":{"domain":[-0.025,2.475],"nice":false,"zero":false},"axis":{"orient":"bottom","values":[0,0.5,1,1.5,2],"format":".1f","title":"F₁/F₃","titlePadding":2}},
"y":{"field":"y","type":"quantitative","scale":{"domain":[-0.03,2.5],"nice":false,"zero":false},"axis":{"orient":"left","values":[0,0.5,1,1.5,2],"format":".1f","title":"F₂/F₃","titlePadding":6}},
"color":{"field":"c","type":"nominal","scale":{"domain":["(6:4:1)","(1:1:0)","(6:2:1)","(3:6:1)","(0:6:1)","(2:8:1)","(6:8:1)","Nᵣₑₛ > 1","No res"],"range":["#00ffff","#008000","#ff0000","#ffa500","#0000ff","#ee82ee","#000000","#ff1493","#808080"]},
"legend":{"title":null,"strokeColor":"black","fillColor":"white","padding":3,"symbolType":"M-1,-0.8H3V0.8H-1Z","symbolSize":144,"symbolOpacity":1,"labelFontSize":11,"labelFont":"DejaVu Sans","labelColor":"black","labelOffset":22,"rowPadding":1,"encode":{"symbols":{"update":{"stroke":{"value":"black"},"strokeWidth":{"value":1}}}}}}
}},
{"data":{"name":"lines"},"mark":{"type":"rule","strokeDash":[6,4],"color":"black","strokeWidth":1,"clip":true},
"encoding":{
"x":{"field":"x1","type":"quantitative","scale":{"domain":[-0.025,2.475],"nice":false,"zero":false},"axis":{"orient":"top","values":[0,0.5,1,1.5,2],"labels":false,"title":null}},
"y":{"field":"y1","type":"quantitative","scale":{"domain":[-0.03,2.5],"nice":false,"zero":false},"axis":{"orient":"right","values":[0,0.5,1,1.5,2],"labels":false,"title":null}},
"x2":{"field":"x2"},"y2":{"field":"y2"}}},
{"data":{"name":"labs"},"transform":[{"filter":"datum.g=='a'"}],"mark":{"type":"text","angle":298,"fontSize":10,"font":"DejaVu Sans","color":"black"},"encoding":{"x":{"field":"x","type":"quantitative","axis":null},"y":{"field":"y","type":"quantitative","axis":null},"text":{"field":"t"}}},
{"data":{"name":"labs"},"transform":[{"filter":"datum.g=='b'"}],"mark":{"type":"text","angle":63,"fontSize":10,"font":"DejaVu Sans","color":"black"},"encoding":{"x":{"field":"x","type":"quantitative","axis":null},"y":{"field":"y","type":"quantitative","axis":null},"text":{"field":"t"}}},
{"data":{"name":"labs"},"transform":[{"filter":"datum.g=='c'"}],"mark":{"type":"text","angle":316,"fontSize":10,"font":"DejaVu Sans","color":"black"},"encoding":{"x":{"field":"x","type":"quantitative","axis":null},"y":{"field":"y","type":"quantitative","axis":null},"text":{"field":"t"}}},
{"data":{"name":"labs"},"transform":[{"filter":"datum.g=='d'"}],"mark":{"type":"text","angle":334,"fontSize":10,"font":"DejaVu Sans","color":"black"},"encoding":{"x":{"field":"x","type":"quantitative","axis":null},"y":{"field":"y","type":"quantitative","axis":null},"text":{"field":"t"}}}
]},
{"width":246,"height":238,"title":{"text":"Along y-axis"},
"layer":[
{"data":{"name":"pts"},"transform":[{"filter":"datum.p==2"}],"mark":{"type":"square","size":6,"opacity":1,"clip":true},
"encoding":{
"x":{"field":"x","type":"quantitative","scale":{"domain":[-0.025,2.475],"nice":false,"zero":false},"axis":{"orient":"bottom","values":[0,0.5,1,1.5,2],"format":".1f","title":"F₁/F₃","titlePadding":2}},
"y":{"field":"y","type":"quantitative","scale":{"domain":[-0.03,2.5],"nice":false,"zero":false},"axis":{"orient":"left","values":[0,0.5,1,1.5,2],"labels":false,"title":null}},
"color":{"field":"c","type":"nominal"}
}},
{"data":{"name":"lines"},"mark":{"type":"rule","strokeDash":[6,4],"color":"black","strokeWidth":1,"clip":true},
"encoding":{
"x":{"field":"x1","type":"quantitative","scale":{"domain":[-0.025,2.475],"nice":false,"zero":false},"axis":{"orient":"top","values":[0,0.5,1,1.5,2],"labels":false,"title":null}},
"y":{"field":"y1","type":"quantitative","scale":{"domain":[-0.03,2.5],"nice":false,"zero":false},"axis":{"orient":"right","values":[0,0.5,1,1.5,2],"labels":false,"title":null}},
"x2":{"field":"x2"},"y2":{"field":"y2"}}},
{"data":{"name":"labs"},"transform":[{"filter":"datum.g=='a'"}],"mark":{"type":"text","angle":298,"fontSize":10,"font":"DejaVu Sans","color":"black"},"encoding":{"x":{"field":"x","type":"quantitative","axis":null},"y":{"field":"y","type":"quantitative","axis":null},"text":{"field":"t"}}},
{"data":{"name":"labs"},"transform":[{"filter":"datum.g=='b'"}],"mark":{"type":"text","angle":63,"fontSize":10,"font":"DejaVu Sans","color":"black"},"encoding":{"x":{"field":"x","type":"quantitative","axis":null},"y":{"field":"y","type":"quantitative","axis":null},"text":{"field":"t"}}},
{"data":{"name":"labs"},"transform":[{"filter":"datum.g=='c'"}],"mark":{"type":"text","angle":316,"fontSize":10,"font":"DejaVu Sans","color":"black"},"encoding":{"x":{"field":"x","type":"quantitative","axis":null},"y":{"field":"y","type":"quantitative","axis":null},"text":{"field":"t"}}},
{"data":{"name":"labs"},"transform":[{"filter":"datum.g=='d'"}],"mark":{"type":"text","angle":334,"fontSize":10,"font":"DejaVu Sans","color":"black"},"encoding":{"x":{"field":"x","type":"quantitative","axis":null},"y":{"field":"y","type":"quantitative","axis":null},"text":{"field":"t"}}}
]},
{"width":246,"height":238,"title":{"text":"Along z-axis"},
"layer":[
{"data":{"name":"pts"},"transform":[{"filter":"datum.p==3"}],"mark":{"type":"square","size":6,"opacity":1,"clip":true},
"encoding":{
"x":{"field":"x","type":"quantitative","scale":{"domain":[-0.025,2.475],"nice":false,"zero":false},"axis":{"orient":"bottom","values":[0,0.5,1,1.5,2],"format":".1f","title":"F₁/F₃","titlePadding":2}},
"y":{"field":"y","type":"quantitative","scale":{"domain":[-0.03,2.5],"nice":false,"zero":false},"axis":{"orient":"left","values":[0,0.5,1,1.5,2],"labels":false,"title":null}},
"color":{"field":"c","type":"nominal"}
}},
{"data":{"name":"lines"},"mark":{"type":"rule","strokeDash":[6,4],"color":"black","strokeWidth":1,"clip":true},
"encoding":{
"x":{"field":"x1","type":"quantitative","scale":{"domain":[-0.025,2.475],"nice":false,"zero":false},"axis":{"orient":"top","values":[0,0.5,1,1.5,2],"labels":false,"title":null}},
"y":{"field":"y1","type":"quantitative","scale":{"domain":[-0.03,2.5],"nice":false,"zero":false},"axis":{"orient":"right","values":[0,0.5,1,1.5,2],"labels":false,"title":null}},
"x2":{"field":"x2"},"y2":{"field":"y2"}}},
{"data":{"name":"labs"},"transform":[{"filter":"datum.g=='a'"}],"mark":{"type":"text","angle":298,"fontSize":10,"font":"DejaVu Sans","color":"black"},"encoding":{"x":{"field":"x","type":"quantitative","axis":null},"y":{"field":"y","type":"quantitative","axis":null},"text":{"field":"t"}}},
{"data":{"name":"labs"},"transform":[{"filter":"datum.g=='b'"}],"mark":{"type":"text","angle":63,"fontSize":10,"font":"DejaVu Sans","color":"black"},"encoding":{"x":{"field":"x","type":"quantitative","axis":null},"y":{"field":"y","type":"quantitative","axis":null},"text":{"field":"t"}}},
{"data":{"name":"labs"},"transform":[{"filter":"datum.g=='c'"}],"mark":{"type":"text","angle":316,"fontSize":10,"font":"DejaVu Sans","color":"black"},"encoding":{"x":{"field":"x","type":"quantitative","axis":null},"y":{"field":"y","type":"quantitative","axis":null},"text":{"field":"t"}}},
{"data":{"name":"labs"},"transform":[{"filter":"datum.g=='d'"}],"mark":{"type":"text","angle":334,"fontSize":10,"font":"DejaVu Sans","color":"black"},"encoding":{"x":{"field":"x","type":"quantitative","axis":null},"y":{"field":"y","type":"quantitative","axis":null},"text":{"field":"t"}}}
]}
],
"resolve":{"scale":{"color":"shared"}}
}
